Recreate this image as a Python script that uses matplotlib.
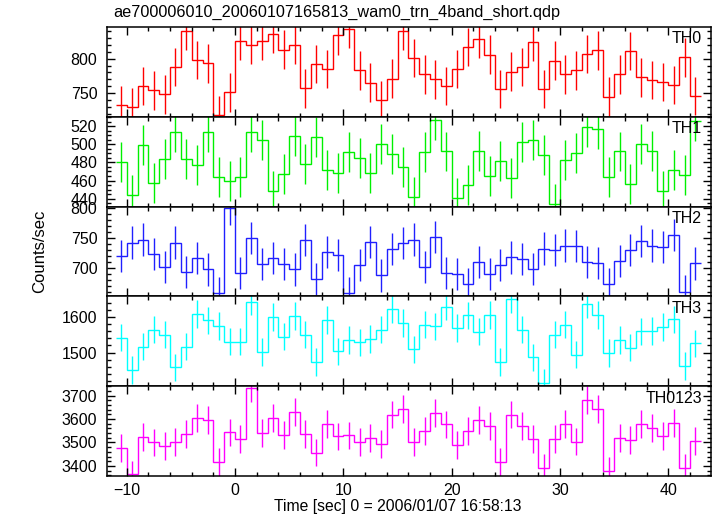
import numpy as np
import matplotlib
matplotlib.use('Agg')
import matplotlib.pyplot as plt
from matplotlib.ticker import MultipleLocator

plt.rcParams['font.family'] = ['Liberation Sans', 'DejaVu Sans']

# ---------------- data ----------------
bin_start = -11.0
bin_width = 1.0

th0 = [732, 730, 760, 754, 748, 788, 840, 798, 793, 718, 751, 826, 820, 826, 836, 813,
       820, 757, 792, 785, 834, 843, 783, 765, 740, 771, 840, 801,
       777, 770, 760, 785, 817, 829, 806, 756, 781, 788, 824, 756, 797, 777, 783,
       807, 812, 745, 777, 811, 773, 769, 766, 762, 802, 746]
th1 = [480, 444, 499, 457, 484, 513, 484, 477, 513, 464, 460, 464, 513, 505, 449, 467,
       509, 478, 508, 472, 468, 491, 485, 468, 500, 489, 475, 442,
       491, 527, 492, 441, 455, 493, 465, 482, 463, 502, 505, 488, 434, 483, 490,
       519, 517, 464, 492, 456, 500, 493, 449, 472, 466, 526]
th2 = [720, 743, 748, 724, 702, 743, 694, 717, 698, 658, 800, 692, 751, 707, 717, 707,
       698, 747, 682, 727, 722, 658, 705, 744, 688, 732, 742, 748,
       702, 752, 692, 690, 673, 711, 690, 705, 718, 715, 699, 733, 730, 738, 737,
       711, 709, 673, 712, 730, 745, 738, 736, 756, 661, 708]
th3 = [1542, 1450, 1517, 1565, 1551, 1458, 1517, 1609, 1591, 1575, 1531, 1531, 1644,
       1501, 1601, 1545, 1604, 1551, 1474, 1592, 1503, 1535, 1529, 1539, 1565, 1623,
       1583, 1509,
       1579, 1574, 1630, 1570, 1605, 1559, 1607, 1474, 1652, 1565, 1486, 1413, 1551,
       1579, 1494, 1638, 1606, 1498, 1536, 1514, 1560, 1561, 1573, 1594, 1462, 1526]
th0123 = [3476, 3364, 3523, 3500, 3486, 3503, 3537, 3603, 3596, 3417, 3543, 3514, 3731,
          3540, 3603, 3531, 3631, 3537, 3457, 3579, 3526, 3530, 3501, 3519, 3493, 3619,
          3643, 3503,
          3549, 3626, 3577, 3489, 3550, 3596, 3569, 3417, 3619, 3571, 3514, 3390, 3514,
          3580, 3504, 3680, 3644, 3379, 3519, 3510, 3580, 3563, 3529, 3583, 3390, 3507]

series = [th0, th1, th2, th3, th0123]
errors = [28, 22, 27, 39, 59]
names = ['TH0', 'TH1', 'TH2', 'TH3', 'TH0123']
colors = ['#ff0000', '#00f000', '#2020ff', '#00ffff', '#ff00ff']
ylims = [(715.5, 846), (431.3, 530.2), (653, 803), (1404.7, 1659), (3357, 3740)]
major_steps = [50, 20, 50, 100, 100]
minor_steps = [10, 5, 10, 20, 20]

title = 'ae700006010_20060107165813_wam0_trn_4band_short.qdp'
xlabel = 'Time [sec] 0 = 2006/01/07 16:58:13'
ylabel = 'Counts/sec'
xlim = (-11.82, 43.94)

# ---------------- figure ----------------
W, H = 717, 516
fig = plt.figure(figsize=(W / 100, H / 100), dpi=100)

left, right = 107 / W, 711 / W
top_px, bot_px = 27, 476
panel_h = (bot_px - top_px) / 5

axes = []
for i in range(5):
    y0 = 1 - (top_px + panel_h * (i + 1)) / H
    ax = fig.add_axes([left, y0, right - left, panel_h / H])
    axes.append(ax)

for i, ax in enumerate(axes):
    vals = np.asarray(series[i], dtype=float)
    n = len(vals)
    edges = bin_start + bin_width * np.arange(n + 1)
    centers = edges[:-1] + bin_width / 2
    ax.stairs(vals, edges, baseline=None, color=colors[i], lw=1.0)
    ax.vlines(centers, vals - errors[i], vals + errors[i], color=colors[i], lw=1.0)
    ax.set_xlim(*xlim)
    ax.set_ylim(*ylims[i])
    ax.xaxis.set_major_locator(MultipleLocator(10))
    ax.xaxis.set_minor_locator(MultipleLocator(2))
    ax.yaxis.set_major_locator(MultipleLocator(major_steps[i]))
    ax.yaxis.set_minor_locator(MultipleLocator(minor_steps[i]))
    ax.tick_params(which='both', direction='in', top=True, right=True,
                   width=1.0, colors='black', labelsize=11.5)
    ax.tick_params(which='major', length=6)
    ax.tick_params(which='minor', length=3)
    ax.tick_params(axis='y', pad=7)
    ax.tick_params(axis='x', pad=5)
    for sp in ax.spines.values():
        sp.set_linewidth(1.1)
    if i < 4:
        ax.tick_params(labelbottom=False)
    ax.text(0.985, 0.95, names[i], transform=ax.transAxes, ha='right', va='top',
            fontsize=11.5, color='black')

fig.text(113 / W, 1 - 12 / H, title, ha='left', va='center', fontsize=11.7)
fig.text(398 / W, 1 - 507 / H, xlabel, ha='center', va='center', fontsize=11.3)
fig.text(40 / W, 1 - 251 / H, ylabel, ha='center', va='center', rotation=90, fontsize=12)

fig.savefig('out.png', dpi=100)
